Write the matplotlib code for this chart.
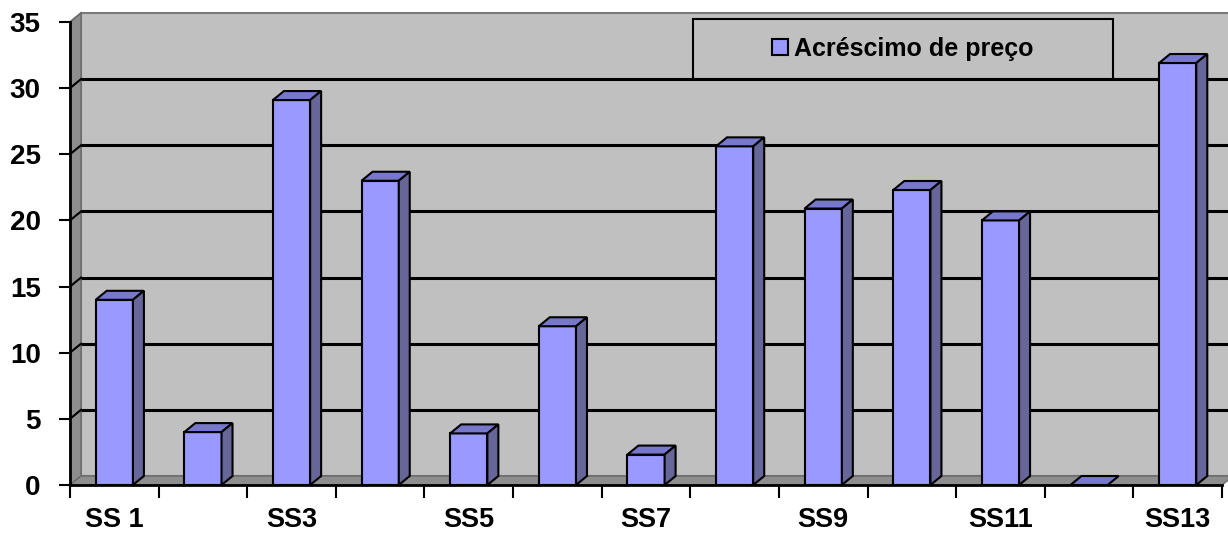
import matplotlib.pyplot as plt
from matplotlib.patches import Patch, Polygon, Rectangle

plt.rcParams["font.family"] = ["Liberation Sans", "DejaVu Sans"]
plt.rcParams["font.weight"] = "bold"

categories = ["SS 1", "SS2", "SS3", "SS4", "SS5", "SS6", "SS7",
              "SS8", "SS9", "SS10", "SS11", "SS12", "SS13"]
values = [14.0, 4.0, 29.1, 23.0, 3.9, 12.0, 2.3, 25.6, 20.9, 22.3, 20.0, 0.0, 31.9]
series_name = "Acréscimo de preço"
yticks = [0, 5, 10, 15, 20, 25, 30, 35]

FRONT = "#9999FF"
TOP = "#7777CC"
SIDE = "#666699"
WALL = "#C0C0C0"
DARK_WALL = "#8E8E8E"

n = len(categories)
ymax = 35
# depth offset of the pseudo 3D box, in data units
dx = 0.124
dy = 0.68
bar_w = 0.42

fig = plt.figure(figsize=(12.28, 5.38), dpi=100)
ax = fig.add_axes([70 / 1228, 53 / 538, 1152 / 1228, 463 / 538])
ax.set_xlim(0, n)
ax.set_ylim(0, ymax)

# walls and floor
ax.add_patch(Polygon([(dx, dy), (n + dx, dy), (n + dx, ymax + dy), (dx, ymax + dy)],
                     closed=True, facecolor=WALL, edgecolor="#7a7a7a", lw=1.5,
                     clip_on=False, zorder=0))
ax.add_patch(Polygon([(0, 0), (dx, dy), (dx, ymax + dy), (0, ymax)],
                     closed=True, facecolor=DARK_WALL, edgecolor="#6a6a6a", lw=1,
                     clip_on=False, zorder=0.5))
ax.add_patch(Polygon([(0, 0), (n, 0), (n + dx, dy), (dx, dy)],
                     closed=True, facecolor=DARK_WALL, edgecolor="#6a6a6a", lw=1,
                     clip_on=False, zorder=0.5))

# gridlines on back wall and side wall
for v in yticks[1:-1]:
    ax.plot([dx, n + dx], [v + dy, v + dy], color="black", lw=2.2, zorder=1,
            clip_on=False, solid_capstyle="butt")
    ax.plot([0, dx], [v, v + dy], color="black", lw=1.5, zorder=1, clip_on=False)
ax.plot([0, dx], [ymax, ymax + dy], color="#6a6a6a", lw=1.2, zorder=1, clip_on=False)

# bars: front faces + top and side faces
x = [i + 0.5 for i in range(n)]
ax.bar(x, values, width=bar_w, color=FRONT, edgecolor="black", lw=1.5, zorder=3)
for xi, v in zip(x, values):
    l, r = xi - bar_w / 2, xi + bar_w / 2
    ax.add_patch(Polygon([(l, v), (r, v), (r + dx, v + dy), (l + dx, v + dy)],
                         closed=True, facecolor=TOP, edgecolor="black", lw=1.5,
                         zorder=3, clip_on=False))
    if v > 0:
        ax.add_patch(Polygon([(r, 0), (r + dx, dy), (r + dx, v + dy), (r, v)],
                             closed=True, facecolor=SIDE, edgecolor="black", lw=1.5,
                             zorder=3, clip_on=False))

# axes
for s in ["top", "right"]:
    ax.spines[s].set_visible(False)
for s in ["left", "bottom"]:
    ax.spines[s].set_linewidth(2)
    ax.spines[s].set_zorder(4)

ax.set_yticks(yticks)
ax.set_yticklabels([str(v) for v in yticks])
ax.tick_params(axis="y", direction="out", length=8, width=1.5, pad=13, labelsize=20)

ax.set_xticks(range(n + 1))
ax.set_xticklabels([])
ax.set_xticks(x[::2], minor=True)
ax.set_xticklabels(categories[::2], minor=True)
ax.tick_params(axis="x", which="major", direction="out", length=9, width=1.5)
ax.tick_params(axis="x", which="minor", length=0, pad=16, labelsize=19.5)

# legend box
ax.add_patch(Rectangle((0.5408, 0.877), 0.3646, 0.13, transform=ax.transAxes,
                       facecolor=WALL, edgecolor="black", lw=1.5, zorder=2,
                       clip_on=False))
leg = ax.legend(handles=[Patch(facecolor=FRONT, edgecolor="black", lw=1.5)],
                labels=[series_name], loc="center", bbox_to_anchor=(0.723, 0.942),
                frameon=False, fontsize=18, handlelength=0.65, handleheight=0.65,
                handletextpad=0.25)
leg.set_zorder(5)

fig.savefig("out.png", dpi=100)
